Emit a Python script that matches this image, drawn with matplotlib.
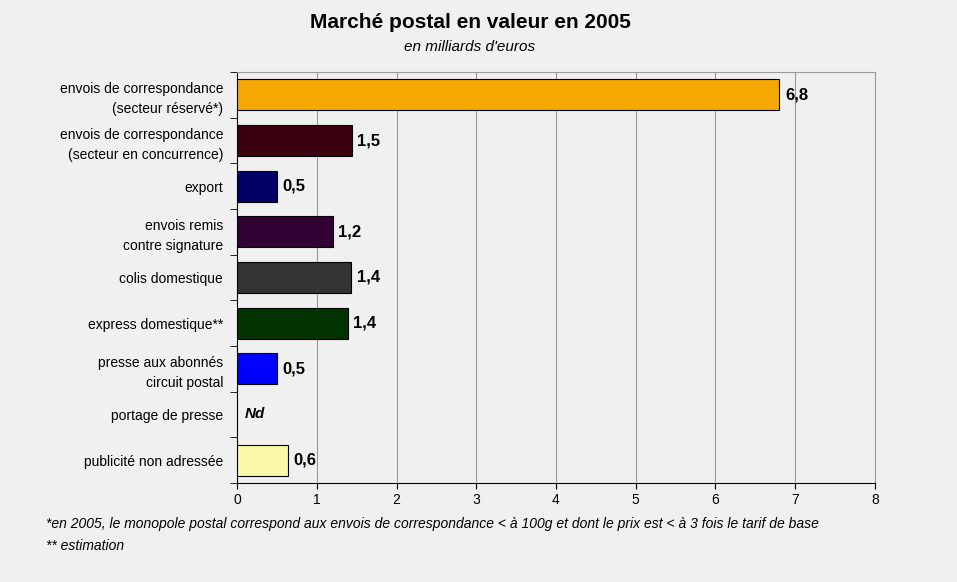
import matplotlib.pyplot as plt
import numpy as np

categories = ["envois de correspondance\n(secteur réservé*)",
              "envois de correspondance\n(secteur en concurrence)",
              "export",
              "envois remis\ncontre signature",
              "colis domestique",
              "express domestique**",
              "presse aux abonnés\ncircuit postal",
              "portage de presse",
              "publicité non adressée"]
values = [6.8, 1.44, 0.5, 1.2, 1.43, 1.39, 0.5, np.nan, 0.64]
labels = ["6,8", "1,5", "0,5", "1,2", "1,4", "1,4", "0,5", "Nd", "0,6"]
colors = ["#F5A800", "#3A0010", "#000066", "#330033", "#333333",
          "#003300", "#0000FF", "#FFFFFF", "#F8F8A8"]

bg = "#F0F0F0"
fig = plt.figure(figsize=(9.57, 5.82), dpi=100, facecolor=bg)
ax = fig.add_axes([237/957, 1-483/582, (875-237)/957, (483-72)/582], facecolor=bg)

y = np.arange(len(categories))
for i, v in enumerate(values):
    if np.isnan(v):
        ax.text(0.1, i, labels[i], va="center", ha="left", fontsize=11,
                fontweight="bold", style="italic", family="Liberation Sans")
        continue
    ax.barh(i, v, height=0.68, color=colors[i], edgecolor="black", linewidth=0.8, zorder=3)
    ax.text(v + 0.07, i, labels[i], va="center", ha="left", fontsize=12,
            fontweight="bold", family="Liberation Sans")

ax.set_xlim(0, 8)
ax.set_ylim(len(categories) - 0.5, -0.5)
ax.set_xticks(range(9))
ax.set_xticklabels([str(k) for k in range(9)], family="Liberation Sans", fontsize=10)
ax.set_yticks(y)
ax.set_yticklabels(categories, family="Liberation Sans", fontsize=10, linespacing=1.5)
ax.set_yticks(np.arange(-0.5, len(categories)), minor=True)
ax.tick_params(axis="y", which="major", length=0, pad=10)
ax.tick_params(axis="y", which="minor", length=5)
ax.tick_params(axis="x", length=4)
ax.grid(axis="x", color="#999999", linewidth=0.8, zorder=0)
for s in ["top", "right"]:
    ax.spines[s].set_color("#999999")
for s in ["left", "bottom"]:
    ax.spines[s].set_color("black")

fig.text(470/957, 1-22/582, "Marché postal en valeur en 2005", ha="center", va="center",
         fontsize=15, fontweight="bold", family="Liberation Sans")
fig.text(470/957, 1-47/582, "en milliards d'euros", ha="center", va="center",
         fontsize=11, style="italic", family="Liberation Sans")
fig.text(46/957, 1-524/582,
         "*en 2005, le monopole postal correspond aux envois de correspondance < à 100g et dont le prix est < à 3 fois le tarif de base",
         ha="left", va="center", fontsize=10, style="italic", family="Liberation Sans")
fig.text(46/957, 1-546/582, "** estimation", ha="left", va="center",
         fontsize=10, style="italic", family="Liberation Sans")

fig.savefig("out.png", dpi=100, facecolor=bg)
